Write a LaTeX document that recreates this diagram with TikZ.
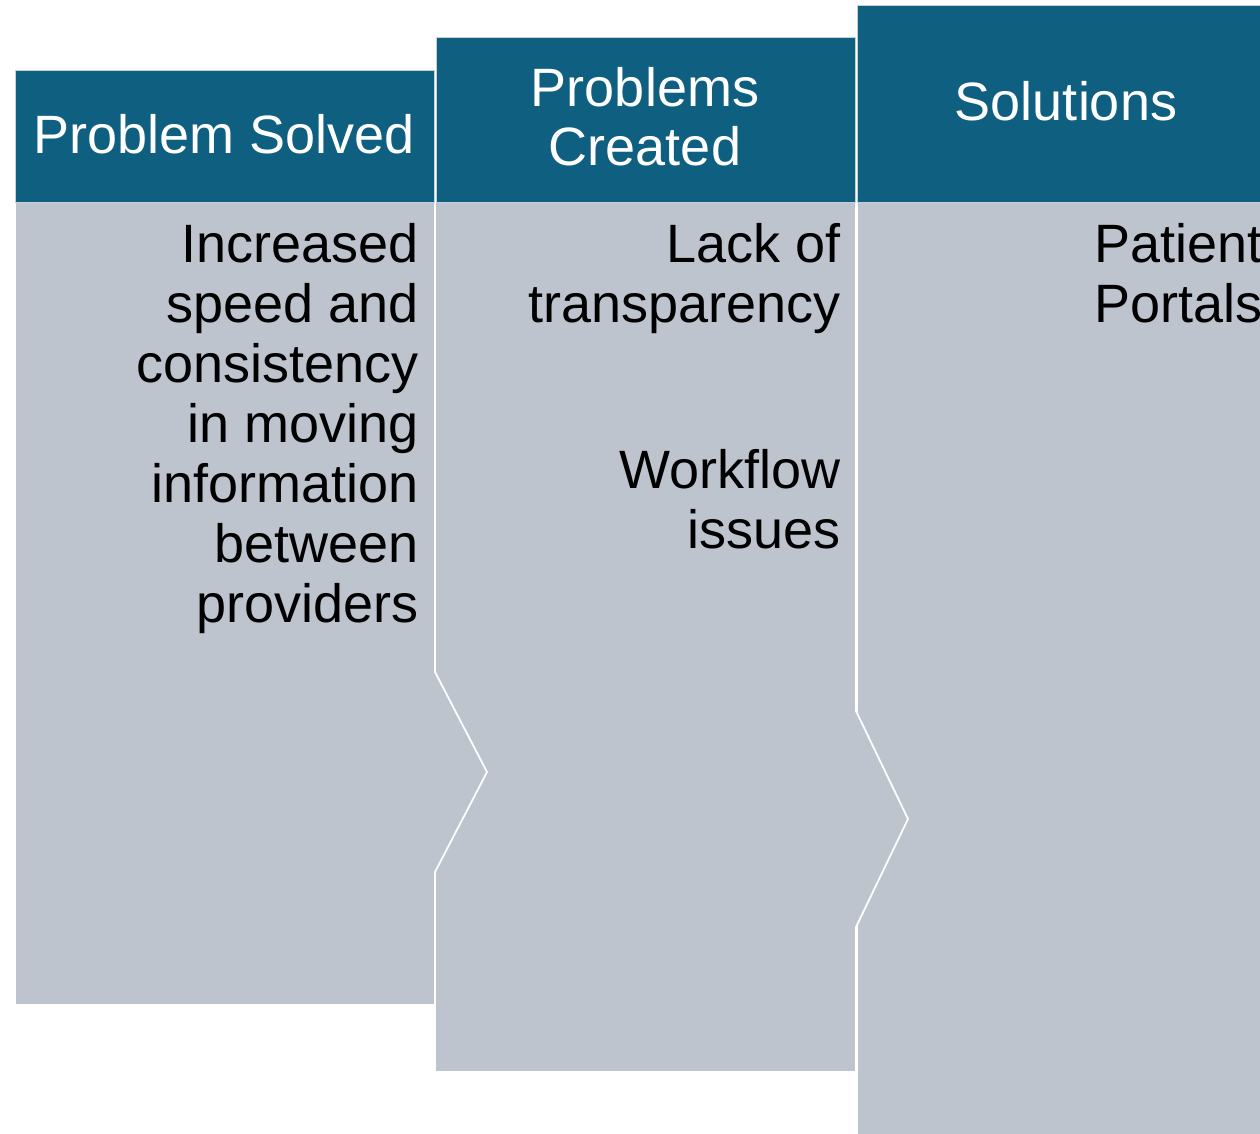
\documentclass[tikz,border=0pt]{standalone}
\usepackage{fontspec}
\setmainfont{Liberation Sans}
\definecolor{hdr}{HTML}{0F6080}
\definecolor{bodyc}{HTML}{BDC4CE}
\definecolor{hdrline}{HTML}{C5D0D8}
\begin{document}
\begin{tikzpicture}[x=1pt,y=-1pt,
  hdrbox/.style={fill=hdr,draw=hdrline,line width=1pt,inner sep=0pt,anchor=north west},
  bodybox/.style={fill=bodyc,draw=white,line width=1.8pt,line join=miter},
  hdrtext/.style={text=white,font=\fontsize{54}{59}\selectfont,align=center,inner sep=0pt,anchor=base},
  bodytext/.style={text=black,font=\fontsize{54}{60}\selectfont,align=right,inner sep=0pt,anchor=base east}]
\useasboundingbox (0,0) rectangle (1260,1133);
\fill[white] (0,0) rectangle (1260,1133);
\clip (0,0) rectangle (1260,1133);
% bodies
\draw[bodybox] (857,202) -- (1300,202) -- (1300,1160) -- (857,1160) -- cycle;
\draw[bodybox] (435,202) -- (856,202) -- (856,711) -- (908,819) -- (856,927) -- (856,1072) -- (435,1072) -- cycle;
\draw[bodybox] (15,202) -- (435,202) -- (435,672) -- (487,772) -- (435,872) -- (435,1005) -- (15,1005) -- cycle;
% headers
\node[hdrbox,minimum width=419pt,minimum height=132pt] (h1) at (15,70) {};
\node[hdrbox,minimum width=419pt,minimum height=165pt] (h2) at (436,37) {};
\node[hdrbox,minimum width=440pt,minimum height=197pt] (h3) at (857,5) {};
\node[hdrtext] (t1) at (224,153) {Problem Solved};
\node[hdrtext] (t2) at (645,165) {Problems\\Created};
\node[hdrtext] (t3) at (1066,120) {Solutions};
% body texts (base anchor = baseline of last line)
\node[bodytext] (b1) at (419,622) {Increased\\speed and\\consistency\\in moving\\information\\between\\providers};
\node[bodytext] (b2) at (841,322) {Lack of\\transparency};
\node[bodytext] (b3) at (841,548) {Workflow\\issues};
\node[bodytext] (b4) at (1263,322) {Patient\\Portals};
\end{tikzpicture}
\end{document}
